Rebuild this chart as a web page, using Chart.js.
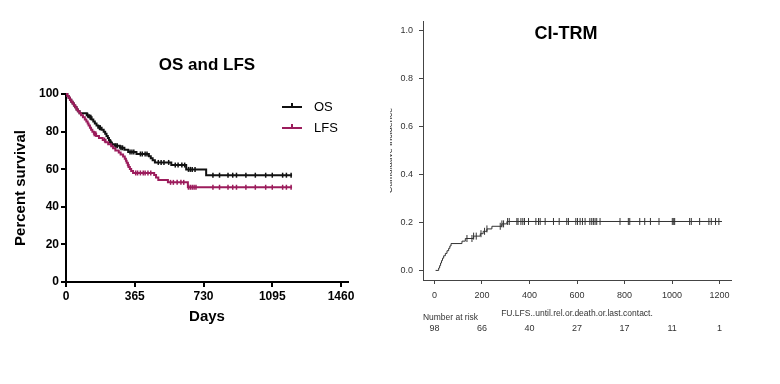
<!DOCTYPE html>
<html>
<head>
<meta charset="utf-8">
<script src="https://cdn.jsdelivr.net/npm/chart.js@4.4.1/dist/chart.umd.min.js"></script>
<style>
  html, body { margin: 0; padding: 0; background: #fff; }
  #wrap { position: relative; width: 780px; height: 384px; }
  #wrap canvas { position: absolute; top: 0; }
  #left  { left: 0; }
  #right { left: 390px; }
</style>
</head>
<body>
<div id="wrap">
  <canvas id="left" width="390" height="384"></canvas>
  <canvas id="right" width="390" height="384"></canvas>
</div>
<script>
// ---- left panel: OS and LFS (Kaplan-Meier, percent) ----
const osDays  = [0, 7, 14, 21, 28, 35, 42, 49, 56, 63, 72, 110, 122, 136, 145, 153, 162, 171, 189, 200, 208, 215, 222, 228, 233, 240, 259, 286, 310, 330, 374, 440, 450, 460, 472, 559, 638, 744, 1200];
const osPct   = [100, 99, 98, 96.9, 95.9, 94.9, 93.9, 92.9, 91.8, 90.8, 89.8, 88.7, 87.6, 86.5, 85.4, 84.3, 83.2, 82.1, 81.0, 79.9, 78.8, 77.7, 76.6, 75.5, 74.4, 73.3, 72.5, 71.4, 70.3, 69.2, 68.1, 66.9, 65.8, 64.7, 63.6, 62.2, 59.9, 56.8, 56.8];
const lfsDays = [0, 7, 14, 21, 28, 35, 42, 49, 56, 63, 72, 80, 90, 100, 108, 115, 120, 127, 133, 140, 148, 160, 175, 195, 210, 224, 240, 250, 262, 280, 290, 303, 312, 318, 322, 328, 333, 339, 346, 356, 468, 478, 490, 541, 647, 1200];
const lfsPct  = [100, 99, 98, 96.9, 95.9, 94.9, 93.9, 92.9, 91.8, 90.8, 89.8, 88.7, 87.6, 86.5, 85.4, 84.3, 83.2, 82.1, 81.0, 79.9, 78.8, 77.7, 76.6, 75.5, 74.4, 73.3, 72.2, 71.1, 70.0, 68.9, 67.8, 66.7, 65.6, 64.5, 63.4, 62.3, 61.2, 60.1, 59.0, 58.0, 56.9, 55.6, 54.3, 53.0, 50.4, 50.4];
const osCensor  = [115, 128, 132, 178, 182, 238, 245, 265, 272, 292, 300, 340, 350, 360, 395, 405, 420, 430, 490, 505, 520, 545, 580, 595, 615, 630, 650, 660, 670, 685, 780, 815, 860, 885, 905, 955, 1005, 1060, 1095, 1150, 1170, 1195];
const lfsCensor = [150, 158, 205, 330, 370, 380, 395, 410, 420, 435, 450, 555, 570, 590, 610, 625, 650, 660, 670, 680, 690, 780, 815, 860, 885, 905, 955, 1005, 1060, 1095, 1150, 1170, 1195];
const leftXTicks = [0, 365, 730, 1095, 1460];
const leftYTicks = [0, 20, 40, 60, 80, 100];
const legendLabels = ['OS', 'LFS'];

// ---- right panel: CI-TRM ----
const trmDays = [5, 18, 22, 26, 30, 34, 39, 46, 53, 60, 65, 70, 116, 130, 165, 193, 205, 221, 242, 284, 305, 1210];
const trmCI   = [0, 0.010, 0.020, 0.031, 0.041, 0.051, 0.061, 0.071, 0.082, 0.092, 0.102, 0.112, 0.122, 0.133, 0.143, 0.153, 0.163, 0.173, 0.184, 0.194, 0.204, 0.204];
const trmCensor = [137, 158, 165, 176, 196, 211, 221, 277, 284, 291, 308, 315, 347, 352, 364, 372, 379, 396, 427, 438, 445, 466, 501, 525, 557, 564, 595, 602, 613, 623, 634, 654, 662, 669, 676, 683, 697, 781, 816, 822, 864, 885, 909, 945, 1001, 1007, 1011, 1074, 1081, 1116, 1155, 1165, 1183, 1197];
const rightXTicks = [0, 200, 400, 600, 800, 1000, 1200];
const rightYTicks = [0, 0.2, 0.4, 0.6, 0.8, 1.0];
const riskDays   = [0, 200, 400, 600, 800, 1000, 1200];
const riskCounts = [98, 66, 40, 27, 17, 11, 1];

const OS_COLOR  = '#111111';
const LFS_COLOR = '#9c1c5c';
const FONT = "'Liberation Sans', Arial, sans-serif";
Chart.defaults.font.family = FONT;

function stepAt(days, vals, t) {
  let v = vals[0];
  for (let i = 0; i < days.length; i++) {
    if (days[i] <= t) v = vals[i]; else break;
  }
  return v;
}
const toPts = (xs, ys) => xs.map((x, i) => ({ x, y: ys[i] }));
const censorPts = (cens, days, vals) => cens.map(d => ({ x: d, y: stepAt(days, vals, d) }));

// legend drawn inside the plot, like the GraphPad original
const innerLegend = {
  id: 'innerLegend',
  afterDraw(chart, args, opts) {
    const ctx = chart.ctx;
    ctx.save();
    opts.colors.forEach((col, i) => {
      const y = opts.y + i * opts.gap;
      ctx.strokeStyle = col;
      ctx.lineWidth = 2;
      ctx.beginPath();
      ctx.moveTo(opts.x, y);
      ctx.lineTo(opts.x + opts.len, y);
      ctx.moveTo(opts.x + opts.len / 2, y - 4);
      ctx.lineTo(opts.x + opts.len / 2, y + 1);
      ctx.stroke();
      ctx.fillStyle = '#000';
      ctx.font = `13px ${FONT}`;
      ctx.textBaseline = 'middle';
      ctx.fillText(legendLabels[i], opts.x + opts.len + 12, y);
    });
    ctx.restore();
  }
};

const axisBlack = (size) => ({
  grid: { drawOnChartArea: false, drawTicks: true, tickLength: 5, color: '#000', lineWidth: 2 },
  border: { display: true, color: '#000', width: 2 },
  ticks: { color: '#000', font: { size: size, weight: 'bold' }, autoSkip: false, maxRotation: 0, padding: 2, callback: v => String(v) }
});

new Chart(document.getElementById('left'), {
  type: 'scatter',
  data: {
    datasets: [
      { label: 'LFS', data: toPts(lfsDays, lfsPct), showLine: true, stepped: true, borderColor: LFS_COLOR, borderWidth: 2, pointRadius: 0, clip: false },
      { label: 'OS', data: toPts(osDays, osPct), showLine: true, stepped: true, borderColor: OS_COLOR, borderWidth: 2, pointRadius: 0, clip: false },
      { label: 'LFS censored', data: censorPts(lfsCensor, lfsDays, lfsPct), pointStyle: 'line', rotation: 90, radius: 2.5, borderWidth: 1.5, borderColor: LFS_COLOR, clip: false },
      { label: 'OS censored', data: censorPts(osCensor, osDays, osPct), pointStyle: 'line', rotation: 90, radius: 2.5, borderWidth: 1.5, borderColor: OS_COLOR, clip: false }
    ]
  },
  options: {
    responsive: false,
    animation: false,
    events: [],
    layout: { padding: { left: 8, right: 42, top: 0, bottom: 54 } },
    plugins: {
      legend: { display: false },
      tooltip: { enabled: false },
      title: {
        display: true, text: 'OS and LFS', color: '#000', fullSize: false,
        font: { size: 17, weight: 'bold' }, padding: { top: 54.8, bottom: 18.8 }
      },
      innerLegend: { x: 282, y: 107, gap: 21, len: 20, colors: [OS_COLOR, LFS_COLOR] }
    },
    scales: {
      x: {
        type: 'linear', min: 0, max: 1497,
        afterBuildTicks: s => { s.ticks = leftXTicks.map(v => ({ value: v })); },
        afterFit: s => { s.height = 48; },
        ...axisBlack(12),
        title: { display: true, text: 'Days', color: '#000', font: { size: 15, weight: 'bold' }, padding: { top: 2, bottom: 4 } }
      },
      y: {
        min: 0, max: 100,
        afterBuildTicks: s => { s.ticks = leftYTicks.map(v => ({ value: v })); },
        afterFit: s => { s.width = 58; },
        ...axisBlack(12),
        title: { display: true, text: 'Percent survival', color: '#000', font: { size: 15, weight: 'bold' }, padding: { top: 4, bottom: 2 } }
      }
    }
  },
  plugins: [innerLegend]
});

// title inside plot + number-at-risk table under the axis
const riskTable = {
  id: 'riskTable',
  afterDraw(chart) {
    const { ctx, scales: { x } } = chart;
    ctx.save();
    ctx.fillStyle = '#333';
    ctx.textBaseline = 'middle';
    ctx.font = `9px ${FONT}`;
    ctx.textAlign = 'left';
    ctx.fillText('Number at risk', chart.chartArea.left, 318, 55);
    ctx.textAlign = 'center';
    riskDays.forEach((d, i) => ctx.fillText(String(riskCounts[i]), x.getPixelForValue(d), 329));
    ctx.fillStyle = '#000';
    ctx.font = `bold 18px ${FONT}`;
    ctx.fillText('CI-TRM', 176, 34);
    ctx.restore();
  }
};

const axisGrey = {
  grid: { drawOnChartArea: false, drawTicks: true, tickLength: 4, color: '#444', lineWidth: 1 },
  border: { display: true, color: '#444', width: 1 },
};

new Chart(document.getElementById('right'), {
  type: 'scatter',
  data: {
    datasets: [
      { label: 'CI-TRM', data: toPts(trmDays, trmCI), showLine: true, stepped: true, borderColor: '#333', borderWidth: 1, pointRadius: 0 },
      { label: 'censored', data: censorPts(trmCensor, trmDays, trmCI), pointStyle: 'line', rotation: 90, radius: 3.5, borderWidth: 1, borderColor: '#333' }
    ]
  },
  options: {
    responsive: false,
    animation: false,
    events: [],
    layout: { padding: { left: 0, right: 49, top: 21, bottom: 65 } },
    plugins: { legend: { display: false }, tooltip: { enabled: false } },
    scales: {
      x: {
        type: 'linear', min: -48, max: 1248,
        afterBuildTicks: s => { s.ticks = rightXTicks.map(v => ({ value: v })); },
        afterFit: s => { s.height = 39; },
        ...axisGrey,
        ticks: { color: '#333', font: { size: 9 }, padding: 6, autoSkip: false, maxRotation: 0, callback: v => String(v) },
        title: { display: true, text: 'FU.LFS..until.rel.or.death.or.last.contact.', color: '#333', font: { size: 8.5 }, padding: { top: 0, bottom: 0 } }
      },
      y: {
        min: -0.04, max: 1.04,
        afterBuildTicks: s => { s.ticks = rightYTicks.map(v => ({ value: v })); },
        afterFit: s => { s.width = 33; },
        ...axisGrey,
        ticks: { color: '#333', font: { size: 9 }, padding: 6, autoSkip: false, callback: v => v.toFixed(1) },
        title: { display: true, text: 'Cumulative incidence', color: '#333', font: { size: 9 }, padding: { top: -5.5, bottom: 0 } }
      }
    }
  },
  plugins: [riskTable]
});
</script>
</body>
</html>
